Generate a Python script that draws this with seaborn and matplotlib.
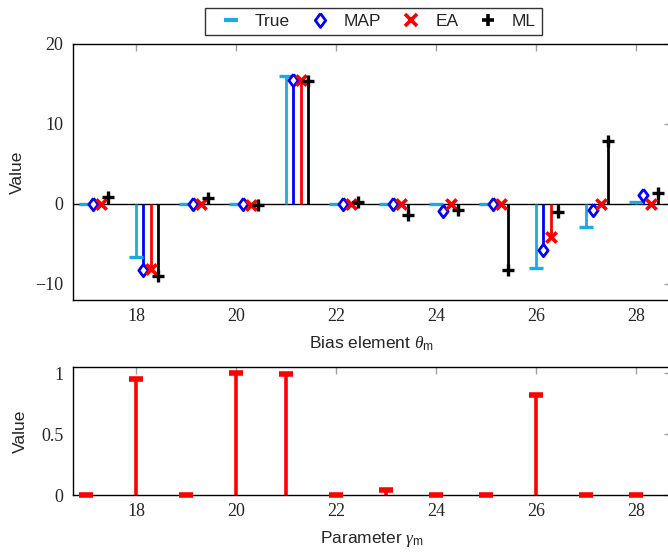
import numpy as np
import pandas as pd
import matplotlib
matplotlib.use("Agg")
import matplotlib.pyplot as plt
from matplotlib.lines import Line2D
import seaborn as sns

# ---- data ----
elements = [17, 18, 19, 20, 21, 22, 23, 24, 25, 26, 27, 28]
true_vals = [0, -6.6, 0, 0, 16.0, 0, 0, 0, 0, -8.0, -2.9, 0.25]
map_vals = [0, -8.3, 0, 0, 15.5, 0, 0, -0.9, 0, -5.8, -0.8, 1.1]
ea_vals = [0, -8.1, 0, -0.1, 15.5, 0, 0, 0.05, 0, -4.1, 0.05, 0]
ml_vals = [0.85, -9.0, 0.7, -0.15, 15.4, 0.25, -1.4, -0.75, -8.2, -1.0, 7.9, 1.35]
gamma_vals = [0, 0.95, 0, 1.0, 0.99, 0, 0.04, 0, 0, 0.82, 0, 0]
series_names = ["True", "MAP", "EA", "ML"]
x_ticks = [18, 20, 22, 24, 26, 28]

sns.set_theme(style="white")
plt.rcParams["font.family"] = ["Liberation Sans", "DejaVu Sans"]
plt.rcParams["mathtext.fontset"] = "custom"
plt.rcParams["mathtext.it"] = "Liberation Serif:italic"
plt.rcParams["mathtext.rm"] = "Liberation Sans"

CYAN = "#1AAAE6"
BLUE = "#0000FF"
RED = "#FF0000"
BLACK = "#000000"
DIAMOND = [(0, 1), (0.75, 0), (0, -1), (-0.75, 0), (0, 1)]
colors = [CYAN, BLUE, RED, BLACK]
offsets = [0.0, 0.145, 0.29, 0.435]
markers = ["_", DIAMOND, "x", "+"]
msizes = [90, 80, 55, 85]
mews = [2.4, 2.0, 2.6, 2.4]

fig = plt.figure(figsize=(6.68, 5.53), dpi=100)
W, H = 668, 553
ax1 = fig.add_axes([73 / W, (H - 300) / H, 598 / W, 256 / H])
ax2 = fig.add_axes([73 / W, (H - 495) / H, 598 / W, 128 / H])

df = pd.DataFrame({
    "element": elements * 4,
    "series": np.repeat(series_names, len(elements)),
    "value": true_vals + map_vals + ea_vals + ml_vals,
})
df["pos"] = df["element"] + df["series"].map(dict(zip(series_names, offsets)))

ax1.axhline(0, color="black", lw=1.0, zorder=1)
for name, c, m, s, mw in zip(series_names, colors, markers, msizes, mews):
    sub = df[df["series"] == name]
    ax1.vlines(sub["pos"], 0, sub["value"], color=c, lw=2.0, zorder=2)
    if isinstance(m, str):
        sns.scatterplot(data=sub, x="pos", y="value", marker=m, color=c, s=s,
                        linewidth=mw, ax=ax1, zorder=3, clip_on=False, legend=False)
    else:
        sns.scatterplot(data=sub, x="pos", y="value", marker=m, s=s,
                        facecolor="white", edgecolor=c, linewidth=mw, ax=ax1,
                        zorder=3, clip_on=False, legend=False)

ax1.set_xlim(16.74, 28.70)
ax1.set_ylim(-12, 20)
ax1.set_yticks([-10, 0, 10, 20])
ax1.set_yticklabels(["\u221210", "0", "10", "20"])
ax1.set_xticks(x_ticks)
ax1.set_xlabel(r"Bias element $\mathit{\theta}_\mathrm{m}$", fontsize=12.5, labelpad=7)
ax1.set_ylabel("Value", fontsize=12.5)
ax1.yaxis.set_label_coords(-0.080, 0.5)

# bottom
gdf = pd.DataFrame({"element": elements, "gamma": gamma_vals})
ax2.vlines(gdf["element"], 0, gdf["gamma"], color=RED, lw=2.6, zorder=2)
sns.scatterplot(data=gdf, x="element", y="gamma", marker="_", color=RED, s=100,
                linewidth=4, ax=ax2, zorder=3, clip_on=False, legend=False)
ax2.set_xlim(16.74, 28.70)
ax2.set_ylim(0, 1.05)
ax2.set_yticks([0, 0.5, 1])
ax2.set_yticklabels(["0", "0.5", "1"])
ax2.set_xticks(x_ticks)
ax2.set_xlabel(r"Parameter $\mathit{\gamma}_\mathrm{m}$", fontsize=12.5, labelpad=6)
ax2.set_ylabel("Value", fontsize=12.5)
ax2.yaxis.set_label_coords(-0.075, 0.5)

for ax in (ax1, ax2):
    ax.tick_params(direction="in", top=True, right=True, length=5, width=1,
                   color="#A0A0A0", labelsize=13)
    ax.tick_params(axis="x", pad=6)
    ax.tick_params(axis="y", pad=7)
    for lab in ax.get_xticklabels() + ax.get_yticklabels():
        lab.set_family(["Liberation Serif", "DejaVu Serif"])
    for sp in ax.spines.values():
        sp.set_color("black")
        sp.set_linewidth(1.0)
    ax.grid(False)

handles = []
for c, m, mw in zip(colors, markers, mews):
    if not isinstance(m, str):
        h = Line2D([], [], ls="none", marker=m, markersize=10, mfc="white", mec=c, mew=2.0)
    elif m == "_":
        h = Line2D([], [], ls="none", marker=m, markersize=10, color=c, mew=3.0)
    else:
        h = Line2D([], [], ls="none", marker=m, markersize=8.5, color=c, mew=2.6)
    handles.append(h)
leg = ax1.legend(handles, series_names, loc="lower center", bbox_to_anchor=(0.503, 1.035),
                 ncol=4, frameon=True, fancybox=False, fontsize=12.5, handlelength=2.2,
                 columnspacing=0.6, handletextpad=0.3, borderpad=0.35, borderaxespad=0)
leg.get_frame().set_edgecolor("black")
leg.get_frame().set_linewidth(1.0)

fig.savefig("out.png", dpi=100)
